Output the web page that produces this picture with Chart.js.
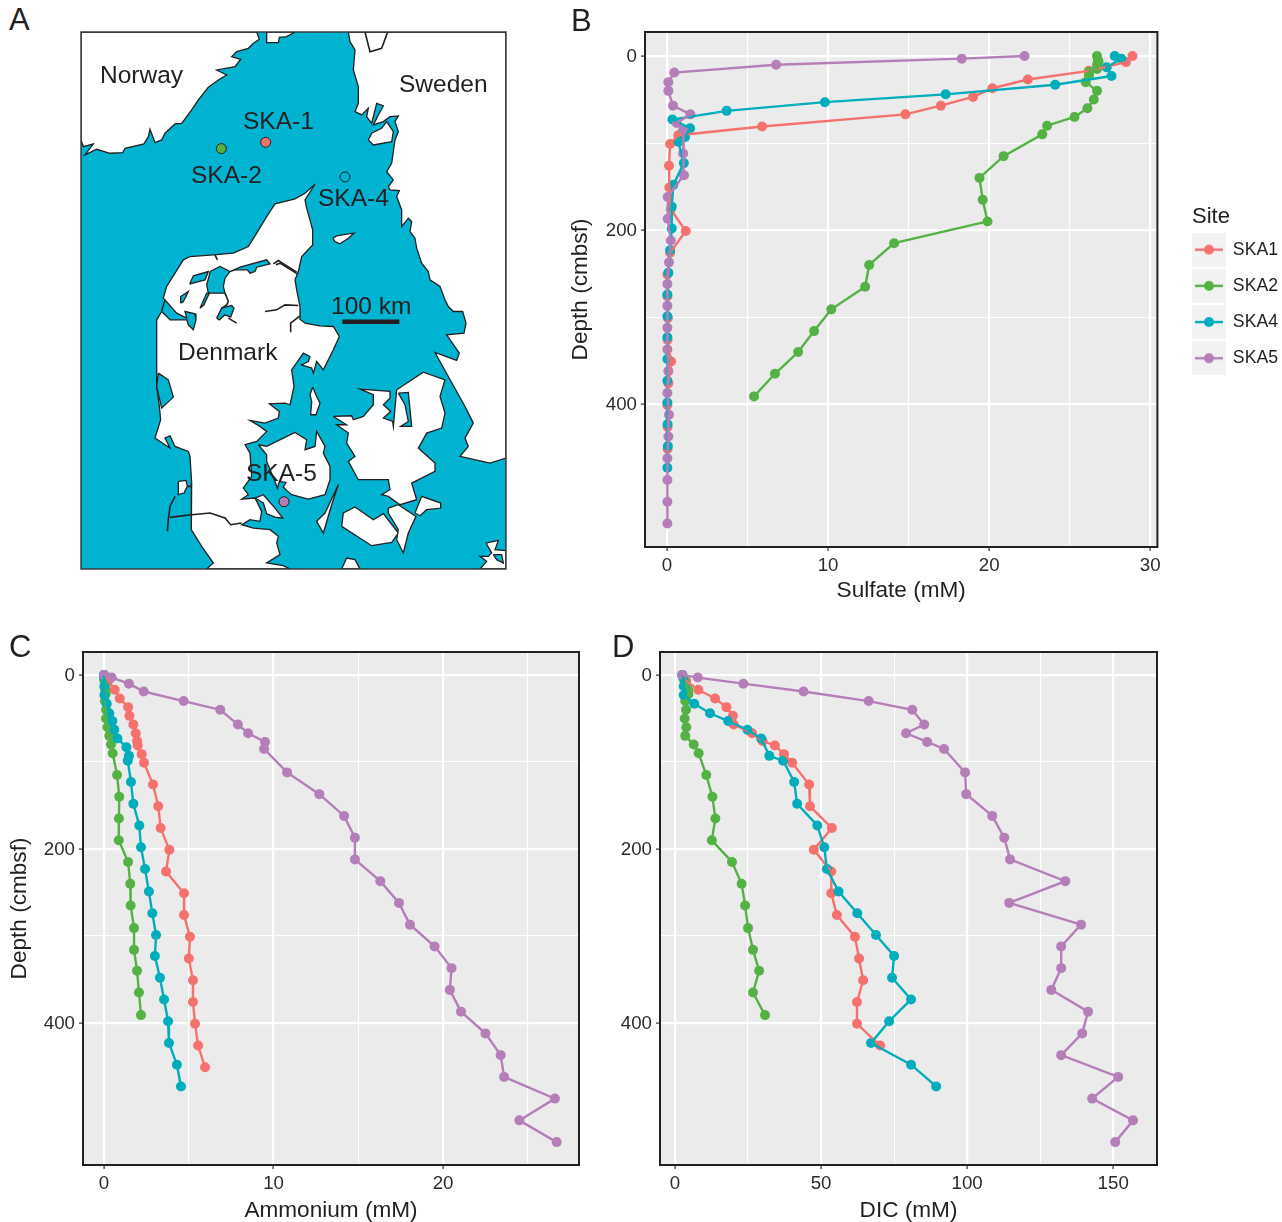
<!DOCTYPE html>
<html>
<head>
<meta charset="utf-8">
<title>Skagerrak sites</title>
<script src="https://cdn.jsdelivr.net/npm/chart.js@4/dist/chart.umd.min.js"></script>
<style>
    html, body { margin: 0; padding: 0; background: #fff; }
    body { position: relative; width: 1282px; height: 1222px; overflow: hidden; font-family: "Liberation Sans", Arial, sans-serif; color: #231f20; }
    canvas { position: absolute; display: block; }
    .panel-letter { position: absolute; font-size: 31px; line-height: 30px; }
    .map-label { position: absolute; font-size: 24.5px; line-height: 28px; white-space: nowrap; }
</style>
</head>
<body>
<canvas id="mapChart" width="445" height="557" style="left:71px;top:22px"></canvas>
<canvas id="sulfateChart" width="722" height="604" style="left:560px;top:0"></canvas>
<canvas id="ammoniumChart" width="590" height="604" style="left:0;top:620px"></canvas>
<canvas id="dicChart" width="580" height="604" style="left:590px;top:620px"></canvas>

<div class="panel-letter" style="left:9px;top:5px">A</div>
<div class="panel-letter" style="left:571px;top:6px">B</div>
<div class="panel-letter" style="left:9px;top:632px">C</div>
<div class="panel-letter" style="left:612px;top:632px">D</div>

<div class="map-label" style="left:100px;top:61px">Norway</div>
<div class="map-label" style="left:399px;top:70px">Sweden</div>
<div class="map-label" style="left:243px;top:107px">SKA-1</div>
<div class="map-label" style="left:191px;top:161px">SKA-2</div>
<div class="map-label" style="left:318px;top:184px">SKA-4</div>
<div class="map-label" style="left:246px;top:459px">SKA-5</div>
<div class="map-label" style="left:178px;top:338px">Denmark</div>
<div class="map-label" style="left:331px;top:292px">100 km</div>

<script>
// depths (cmbsf) per site, shared by the three profile panels
const ska1Depths = [0, 7, 17, 27, 37, 47, 57, 67, 76, 81, 91, 101, 126, 151, 176, 201, 226, 251, 276, 301, 326, 351, 376, 401, 426, 451];
const ska2Depths = [0, 4, 6.5, 10, 15, 18, 22, 30, 40, 50, 60, 70, 80, 90, 115, 140, 165, 190, 215, 240, 265, 291, 316, 340, 365, 391];
const ska4Depths = [0, 3, 13, 23, 33, 44, 53, 63, 73, 83, 93, 98.5, 123, 148, 173, 198, 223, 249, 274, 299, 323, 348, 373, 398, 423, 448, 473];
const ska5Depths = [0, 3, 10, 19, 30, 40, 57, 67, 77, 85, 112, 137, 162, 187, 212, 237, 262, 287, 312, 337, 362, 387, 412, 437, 462, 487, 512, 537];

// sulfate (mM)
const sulfateSka1 = [28.9, 28.5, 26.2, 22.4, 20.2, 19, 17, 14.8, null, 5.9, 0.7, 0.19, 0.12, 0.14, 0.23, 1.16, 0.19, 0.02, 0.02, 0.05, 0.03, 0.25, 0.08, 0.02, 0.03, 0.03];
const sulfateSka2 = [26.7, 26.75, 26.8, 26.7, 26.7, 26.2, 26.2, 26, 26.7, 26.5, 26.1, 25.3, 23.6, 23.3, 20.9, 19.4, 19.6, 19.9, 14.1, 12.55, 12.3, 10.2, 9.13, 8.14, 6.7, 5.4];
const sulfateSka4 = [27.8, 28.2, 27.3, 27.6, 24.1, 17.3, 9.8, 3.7, 0.33, 1.43, 1.12, 0.7, 1.04, 0.39, 0.29, 0.29, 0.19, 0.08, 0.02, 0.02, 0.02, 0.02, 0.02, 0.02, 0.03, 0.05, 0.02];
const sulfateSka5 = [22.2, 18.3, 6.77, 0.45, 0.08, 0.08, 0.37, 1.45, 0.6, 1, 1, 1.05, 0.04, 0.04, 0.23, 0.12, 0.02, 0.02, 0.02, 0.02, 0.08, 0.02, 0.12, 0.08, 0.02, 0.02, 0.02, 0.02];

// ammonium (mM)
const ammoniumSka1 = [0, 0.25, 0.63, 0.93, 1.42, 1.5, 1.73, 1.87, 1.95, 1.99, 2.22, 2.36, 2.89, 3.2, 3.34, 3.85, 3.66, 4.72, 4.72, 5.07, 5, 5.25, 5.25, 5.37, 5.55, 5.96];
const ammoniumSka2 = [0, 0, 0.02, 0.1, 0.05, 0.08, 0.1, 0.05, 0.12, 0.12, 0.2, 0.31, 0.41, 0.51, 0.77, 0.9, 0.88, 0.87, 1.42, 1.55, 1.57, 1.77, 1.77, 1.95, 2.06, 2.18];
const ammoniumSka4 = [0, 0.02, 0.02, 0.02, 0.16, 0.31, 0.49, 0.61, 0.79, 1.32, 1.47, 1.4, 1.59, 1.73, 2.08, 2.18, 2.42, 2.65, 2.85, 3.07, 3, 3.3, 3.54, 3.78, 3.83, 4.3, 4.54];
const ammoniumSka5 = [0, 0.45, 1.47, 2.34, 4.7, 6.86, 7.9, 8.5, 9.5, 9.44, 10.8, 12.7, 14.16, 14.8, 14.8, 16.3, 17.4, 18.05, 19.5, 20.5, 20.4, 21.06, 22.5, 23.4, 23.6, 26.6, 24.5, 26.7];

// DIC (mM)
const dicSka1 = [2.5, 3.8, 8, 13.7, 17.6, 19.8, 20.1, 26.4, 30, 34.2, 37.3, 40.1, 45.9, 46.2, 53.7, 47.5, 53.5, 53.5, 55.4, 61.6, 63, 64.4, 62.3, 62.3, 70.2, null];
const dicSka2 = [2.5, 3, 3.2, 3.6, 4.2, 4.6, 4.6, 3.5, 3.77, 3.3, 3.87, 3.5, 6.4, 8.1, 10.7, 12.8, 13.8, 12.6, 19.5, 22.8, 24, 25, 26.7, 28.8, 26.7, 30.8];
const dicSka4 = [2.5, 2.8, 3, 3, 6.6, 12, 18.2, 24.8, 29.5, null, 32.3, 37, 40.8, 41.8, 48.7, 51.1, 52, 56, 62.4, 68.8, 75, 74.3, 80.8, 73.3, 67.1, 80.8, 89.4];
const dicSka5 = [2.5, 7.8, 23.4, 44, 66.3, 81.2, 85.3, 79.1, 86.3, 92.1, 99.3, 99.7, 108.6, 112.7, 114.7, 133.6, 114.4, 139, 132.2, 132.2, 128.8, 141.4, 139.4, 132.2, 151.7, 142.8, 156.8, 150.7];

const siteNames = ['SKA1', 'SKA2', 'SKA4', 'SKA5'];
const siteColors = ['#F4716D', '#54B245', '#00ADBB', '#B57EB9'];
const siteDepths = [ska1Depths, ska2Depths, ska4Depths, ska5Depths];

const depthTicks = [0, 100, 200, 300, 400];
const depthLabels = [0, 200, 400];
const sulfateTicks = [0, 5, 10, 15, 20, 25, 30];
const sulfateLabels = [0, 10, 20, 30];
const ammoniumTicks = [0, 5, 10, 15, 20, 25];
const ammoniumLabels = [0, 10, 20];
const dicTicks = [0, 25, 50, 75, 100, 125, 150];
const dicLabels = [0, 50, 100, 150];

// map outlines, in map units (the frame runs 243-1518 by 96-1708)
const norway = [[243, 96], [770, 96], [778, 118], [760, 130], [745, 145], [710, 155], [695, 170], [722, 178], [705, 200], [650, 210], [680, 225], [655, 240], [625, 262], [595, 300], [575, 330], [545, 370], [525, 372], [495, 400], [485, 420], [465, 428], [450, 388], [445, 410], [432, 432], [375, 445], [368, 458], [330, 460], [290, 448], [255, 465], [280, 432], [250, 440], [243, 420]];
const northIslet = [[800, 96], [800, 128], [835, 128], [838, 112], [860, 110], [885, 96]];
const sweden = [[1518, 96], [1518, 1375], [1470, 1390], [1380, 1370], [1405, 1340], [1395, 1315], [1420, 1270], [1395, 1220], [1305, 1058], [1370, 1082], [1378, 1060], [1340, 1005], [1392, 1000], [1398, 970], [1388, 935], [1360, 935], [1345, 920], [1335, 900], [1320, 860], [1290, 840], [1285, 815], [1265, 790], [1250, 745], [1245, 715], [1230, 695], [1235, 665], [1225, 655], [1205, 680], [1205, 630], [1190, 590], [1198, 572], [1170, 570], [1165, 560], [1180, 540], [1160, 515], [1175, 490], [1185, 420], [1195, 395], [1185, 365], [1195, 348], [1170, 350], [1150, 365], [1120, 375], [1135, 345], [1150, 318], [1130, 310], [1115, 370], [1100, 350], [1105, 325], [1085, 345], [1065, 335], [1075, 310], [1075, 260], [1060, 210], [1065, 150], [1050, 125], [1045, 96]];
const swedenIsland = [[1105, 420], [1115, 400], [1145, 385], [1160, 365], [1180, 395], [1175, 425], [1120, 435]];
const laeso = [[998, 715], [1010, 708], [1040, 703], [1062, 700], [1045, 715], [1020, 732], [1005, 725]];
const jutland = [[945, 553], [915, 580], [885, 597], [825, 612], [800, 650], [770, 700], [745, 740], [700, 760], [640, 765], [570, 770], [550, 780], [525, 820], [500, 860], [490, 895], [495, 900], [485, 935], [470, 960], [470, 1120], [470, 1160], [478, 1220], [482, 1260], [465, 1315], [495, 1335], [510, 1345], [495, 1315], [510, 1308], [525, 1340], [565, 1355], [570, 1370], [575, 1450], [573, 1545], [575, 1590], [605, 1640], [640, 1690], [620, 1708], [870, 1708], [850, 1698], [800, 1690], [840, 1665], [830, 1630], [835, 1610], [810, 1590], [760, 1585], [725, 1575], [750, 1560], [780, 1565], [785, 1535], [765, 1495], [725, 1498], [745, 1485], [730, 1465], [755, 1430], [750, 1360], [735, 1335], [770, 1325], [800, 1295], [780, 1280], [750, 1262], [795, 1270], [835, 1255], [838, 1235], [808, 1212], [855, 1210], [870, 1215], [882, 1160], [875, 1110], [910, 1060], [930, 1070], [925, 1085], [905, 1095], [935, 1105], [940, 1120], [950, 1085], [970, 1110], [1000, 1050], [1018, 1010], [1000, 980], [960, 978], [915, 970], [900, 958], [900, 920], [890, 870], [885, 840], [895, 815], [905, 770], [938, 735], [938, 690], [920, 625], [915, 600]];
const fyn = [[775, 1335], [800, 1340], [850, 1315], [885, 1298], [920, 1320], [915, 1350], [945, 1340], [950, 1295], [975, 1340], [970, 1360], [990, 1400], [990, 1440], [975, 1485], [925, 1498], [875, 1485], [860, 1472], [850, 1462], [858, 1448], [838, 1445], [832, 1465], [825, 1445], [800, 1385], [800, 1365]];
const als = [[765, 1495], [790, 1485], [825, 1525], [848, 1555], [825, 1552], [800, 1542], [790, 1510]];
const samso = [[938, 1162], [950, 1190], [960, 1210], [948, 1245], [932, 1245], [935, 1205], [930, 1185]];
const langeland = [[1015, 1455], [995, 1515], [970, 1600], [950, 1565], [975, 1540]];
const zealand = [[1000, 1250], [1055, 1248], [1060, 1260], [1090, 1250], [1120, 1215], [1120, 1185], [1080, 1168], [1170, 1175], [1170, 1195], [1150, 1215], [1172, 1235], [1150, 1255], [1178, 1265], [1180, 1280], [1190, 1170], [1270, 1117], [1335, 1140], [1320, 1190], [1335, 1240], [1325, 1285], [1280, 1300], [1255, 1345], [1305, 1390], [1305, 1415], [1235, 1450], [1250, 1500], [1200, 1515], [1165, 1490], [1145, 1485], [1170, 1470], [1165, 1440], [1075, 1440], [1045, 1385], [1065, 1370], [1040, 1330], [1045, 1300], [1010, 1275], [1040, 1275]];
const lolland = [[1025, 1580], [1030, 1540], [1065, 1522], [1120, 1560], [1150, 1542], [1195, 1600], [1175, 1628], [1115, 1638]];
const falster = [[1165, 1525], [1195, 1515], [1248, 1550], [1225, 1600], [1210, 1660], [1190, 1620], [1195, 1590], [1165, 1540]];
const mon = [[1245, 1540], [1265, 1490], [1322, 1510], [1322, 1525], [1280, 1530], [1260, 1548]];
const fehmarn = [[1025, 1708], [1040, 1675], [1065, 1680], [1080, 1708]];
const romo = [[535, 1445], [558, 1442], [562, 1460], [552, 1480], [535, 1485]];
const rugen = [[1458, 1630], [1495, 1622], [1485, 1650], [1518, 1653], [1518, 1708], [1440, 1708], [1460, 1685], [1440, 1670], [1465, 1670], [1475, 1660]];
const landShapes = [norway, northIslet, sweden, swedenIsland, laeso, jutland, fyn, als, samso, langeland, zealand, lolland, falster, mon, fehmarn, romo, rugen];

const limfjordWest = [[495, 900], [530, 940], [560, 955], [555, 935], [585, 942], [588, 960], [580, 990], [565, 975], [560, 960], [510, 960], [505, 955], [485, 935]];
const limfjordStrip = [[570, 850], [580, 828], [625, 815], [615, 840], [570, 852]];
const limfjordNook = [[542, 910], [542, 890], [565, 875], [558, 890], [550, 905]];
const limfjordMid = [[630, 815], [660, 800], [690, 815], [675, 835], [670, 860], [675, 880], [625, 880], [620, 855], [627, 830]];
const limfjordLink = [[600, 925], [620, 880], [628, 880], [612, 915]];
const limfjordSouth = [[650, 955], [665, 925], [695, 917], [702, 925], [692, 952], [675, 945], [658, 960]];
const limfjordEast = [[690, 815], [720, 802], [800, 780], [810, 792], [770, 802], [765, 815], [750, 820], [742, 810], [705, 810]];
const ringkobing = [[475, 1120], [505, 1140], [520, 1192], [485, 1225], [470, 1160]];
const roskilde = [[1195, 1180], [1225, 1178], [1235, 1280], [1202, 1280], [1225, 1265], [1215, 1215]];
const rugenPocket = [[1480, 1665], [1505, 1665], [1510, 1690], [1490, 1680]];
const waterShapes = [limfjordWest, limfjordStrip, limfjordNook, limfjordMid, limfjordLink, limfjordSouth, limfjordEast, ringkobing, roskilde, rugenPocket];

const swedenLake = [[1095, 96], [1110, 155], [1145, 145], [1163, 96]];
const hanstholmOuter = [[820, 792], [835, 782], [890, 817]];
const hanstholmInner = [[828, 795], [840, 790], [892, 822]];
const mariagerLine = [[795, 935], [830, 930], [855, 915], [895, 917]];
const randersLine = [[870, 995], [872, 970], [900, 948]];
const limfjordDash = [[645, 765], [652, 780]];
const limfjordTail = [[685, 955], [710, 970]];
const limfjordCoast = [[675, 880], [685, 905], [680, 915], [665, 925]];
const syltLine = [[525, 1490], [510, 1520], [505, 1560], [502, 1595]];
const syltCauseway = [[510, 1553], [573, 1545]];
const romoCauseway = [[562, 1460], [575, 1460]];
const germanBorder = [[575, 1545], [630, 1540], [675, 1555], [692, 1575], [725, 1570]];
const coastLines = [swedenLake, hanstholmOuter, hanstholmInner, mariagerLine, randersLine, limfjordDash, limfjordTail, limfjordCoast, syltLine, syltCauseway, romoCauseway, germanBorder];
const scaleBar = [[1027, 966], [1198, 966]];

const siteMarkers = [[797, 427], [664, 446], [1035, 531], [852, 1506]];
const siteMarkerColors = ['#F4716D', '#54B245', '#00B3D0', '#B57EB9'];

const seaColor = '#00B3D0';
const inkColor = '#231f20';
const tickTextColor = '#2b2b2b';
const fontFamily = '"Liberation Sans", Arial, sans-serif';

// panel background goes under the grid, frame goes over the marks
const panelFrame = {
    id: 'panelFrame',
    beforeDraw(chart, args, opts) {
        const { ctx, chartArea: a } = chart;
        ctx.save();
        ctx.fillStyle = opts.background;
        ctx.fillRect(a.left, a.top, a.right - a.left, a.bottom - a.top);
        ctx.restore();
    },
    afterDraw(chart, args, opts) {
        const { ctx, chartArea: a } = chart;
        ctx.save();
        ctx.strokeStyle = opts.border;
        ctx.lineWidth = opts.borderWidth;
        ctx.strokeRect(a.left, a.top, a.right - a.left, a.bottom - a.top);
        ctx.restore();
    }
};

// the legend sits further from the panel than chart.js would put it
const legendPlacement = {
    id: 'legendPlacement',
    afterLayout(chart) {
        const legend = chart.legend;
        const rightShift = 615.5 - legend.left;
        legend.left += rightShift;
        legend.right += rightShift;
        legend.top -= 23;
        legend.bottom -= 23;
        legend.width = 71;
    }
};

function toPoints(values, depths) {
    return values
        .map((value, i) => ({ x: value, y: depths[i] }))
        .filter(p => p.x !== null);
}

// lines sit above all the points, first dataset is painted last
function siteDatasets(seriesList) {
    const lines = [];
    const dots = [];
    for (let i = seriesList.length - 1; i >= 0; i--) {
        const data = toPoints(seriesList[i], siteDepths[i]);
        lines.push({
            label: siteNames[i], data, showLine: true, borderColor: siteColors[i], borderWidth: 2.4,
            pointRadius: 0, tension: 0, fill: false
        });
        dots.push({
            label: siteNames[i] + ' samples', data, showLine: false, backgroundColor: siteColors[i],
            pointBackgroundColor: siteColors[i], pointBorderWidth: 0, pointRadius: 5, pointHoverRadius: 5
        });
    }
    return lines.concat(dots);
}

function legendKey(color) {
    const key = document.createElement('canvas');
    key.width = 34;
    key.height = 34;
    const c = key.getContext('2d');
    c.fillStyle = '#F2F2F2';
    c.fillRect(0, 0, 34, 34);
    c.strokeStyle = color;
    c.lineWidth = 2.4;
    c.beginPath();
    c.moveTo(3, 17);
    c.lineTo(31, 17);
    c.stroke();
    c.fillStyle = color;
    c.beginPath();
    c.arc(17, 17, 5, 0, Math.PI * 2);
    c.fill();
    return key;
}

function profileAxis(range, ticks, labels, titleText, fitOption, titlePad, labelOffset) {
    const isMajor = ctx => labels.includes(ctx.tick.value);
    return {
        type: 'linear',
        min: range[0],
        max: range[1],
        afterBuildTicks(scale) {
            scale.ticks = ticks.map(value => ({ value }));
        },
        afterFit: fitOption,
        border: { display: false },
        grid: {
            color: '#ffffff',
            lineWidth: ctx => (isMajor(ctx) ? 2.2 : 1.1),
            tickColor: ctx => (isMajor(ctx) ? '#333333' : 'rgba(0,0,0,0)'),
            tickWidth: 1.2,
            tickLength: 4,
            drawOnChartArea: true
        },
        ticks: {
            color: tickTextColor,
            font: { family: fontFamily, size: 18.7 },
            padding: 4,
            labelOffset,
            autoSkip: false,
            maxRotation: 0,
            callback: value => (labels.includes(value) ? String(value) : '')
        },
        title: {
            display: !!titleText,
            text: titleText,
            color: inkColor,
            font: { family: fontFamily, size: 22.6 },
            padding: { top: titlePad, bottom: titlePad }
        }
    };
}

function createProfileChart(id, seriesList, cfg) {
    const plugins = {
        panelFrame: { background: '#EBEBEC', border: '#222222', borderWidth: 2 },
        tooltip: { enabled: false },
        legend: { display: false }
    };
    const chartPlugins = [panelFrame];
    if (cfg.legend) {
        chartPlugins.push(legendPlacement);
        plugins.legend = {
            display: true,
            position: 'right',
            align: 'center',
            title: {
                display: true,
                text: 'Site',
                color: inkColor,
                font: { family: fontFamily, size: 22 },
                padding: { top: 2, bottom: -10.5 }
            },
            labels: {
                usePointStyle: true,
                pointStyleWidth: 30,
                padding: 18.5,
                color: inkColor,
                font: { family: fontFamily, size: 17.7 },
                generateLabels: () => siteNames.map((name, i) => ({
                    text: name,
                    pointStyle: legendKey(siteColors[i]),
                    fontColor: inkColor,
                    fillStyle: siteColors[i],
                    strokeStyle: siteColors[i],
                    lineWidth: 0,
                    hidden: false
                }))
            }
        };
    }
    return new Chart(document.getElementById(id), {
        type: 'scatter',
        data: { datasets: siteDatasets(seriesList) },
        options: {
            responsive: false,
            animation: false,
            events: [],
            layout: { padding: cfg.padding },
            scales: {
                x: profileAxis(cfg.xRange, cfg.xTicks, cfg.xLabels, cfg.xTitle, scale => { scale.height = cfg.xHeight; }, cfg.xTitlePad, 0),
                y: Object.assign(
                    profileAxis(cfg.yRange, depthTicks, depthLabels, cfg.yTitle, scale => { scale.width = cfg.yWidth; }, cfg.yTitlePad, 1),
                    { reverse: true }
                )
            },
            plugins
        },
        plugins: chartPlugins
    });
}

function createMapChart() {
    const shapeSet = (points, fillColor) => ({
        data: points.concat([points[0]]).map(([x, y]) => ({ x, y })),
        showLine: true,
        fill: 'shape',
        backgroundColor: fillColor,
        borderColor: inkColor,
        borderWidth: 1.3,
        pointRadius: 0,
        tension: 0
    });
    const lineSet = (points, width) => ({
        data: points.map(([x, y]) => ({ x, y })),
        showLine: true,
        fill: false,
        borderColor: inkColor,
        borderWidth: width,
        pointRadius: 0,
        tension: 0
    });
    const markers = {
        data: siteMarkers.map(([x, y]) => ({ x, y })),
        showLine: false,
        pointRadius: 5,
        pointBorderWidth: 1,
        pointBorderColor: inkColor,
        pointBackgroundColor: siteMarkerColors
    };
    const bottomUp = [
        ...landShapes.map(s => shapeSet(s, '#ffffff')),
        ...waterShapes.map(s => shapeSet(s, seaColor)),
        ...coastLines.map(s => lineSet(s, 1.6)),
        lineSet(scaleBar, 4.5),
        markers
    ];
    return new Chart(document.getElementById('mapChart'), {
        type: 'scatter',
        data: { datasets: bottomUp.reverse() },
        options: {
            responsive: false,
            animation: false,
            events: [],
            layout: { padding: 10 },
            scales: {
                x: { type: 'linear', min: 243, max: 1518, display: false },
                y: { type: 'linear', min: 96, max: 1708, reverse: true, display: false }
            },
            plugins: {
                panelFrame: { background: seaColor, border: '#333333', borderWidth: 1.4 },
                tooltip: { enabled: false },
                legend: { display: false }
            }
        },
        plugins: [panelFrame]
    });
}

createMapChart();

createProfileChart('sulfateChart', [sulfateSka1, sulfateSka2, sulfateSka4, sulfateSka5], {
    xRange: [-1.37, 30.45], yRange: [-27.6, 564],
    xTicks: sulfateTicks, xLabels: sulfateLabels,
    xTitle: 'Sulfate (mM)', yTitle: 'Depth (cmbsf)',
    xHeight: 57, yWidth: 85, xTitlePad: 0, yTitlePad: 7,
    padding: { top: 32, right: 12, left: 0, bottom: 0 },
    legend: true
});

createProfileChart('ammoniumChart', [ammoniumSka1, ammoniumSka2, ammoniumSka4, ammoniumSka5], {
    xRange: [-1.24, 28.02], yRange: [-26.4, 563.3],
    xTicks: ammoniumTicks, xLabels: ammoniumLabels,
    xTitle: 'Ammonium (mM)', yTitle: 'Depth (cmbsf)',
    xHeight: 59, yWidth: 83, xTitlePad: 0, yTitlePad: 6,
    padding: { top: 32, right: 11, left: 0, bottom: 0 }
});

createProfileChart('dicChart', [dicSka1, dicSka2, dicSka4, dicSka5], {
    xRange: [-5.14, 165], yRange: [-26.4, 563.3],
    xTicks: dicTicks, xLabels: dicLabels,
    xTitle: 'DIC (mM)', yTitle: '',
    xHeight: 59, yWidth: 70, xTitlePad: 0, yTitlePad: 0,
    padding: { top: 32, right: 13, left: 0, bottom: 0 }
});
</script>
</body>
</html>
